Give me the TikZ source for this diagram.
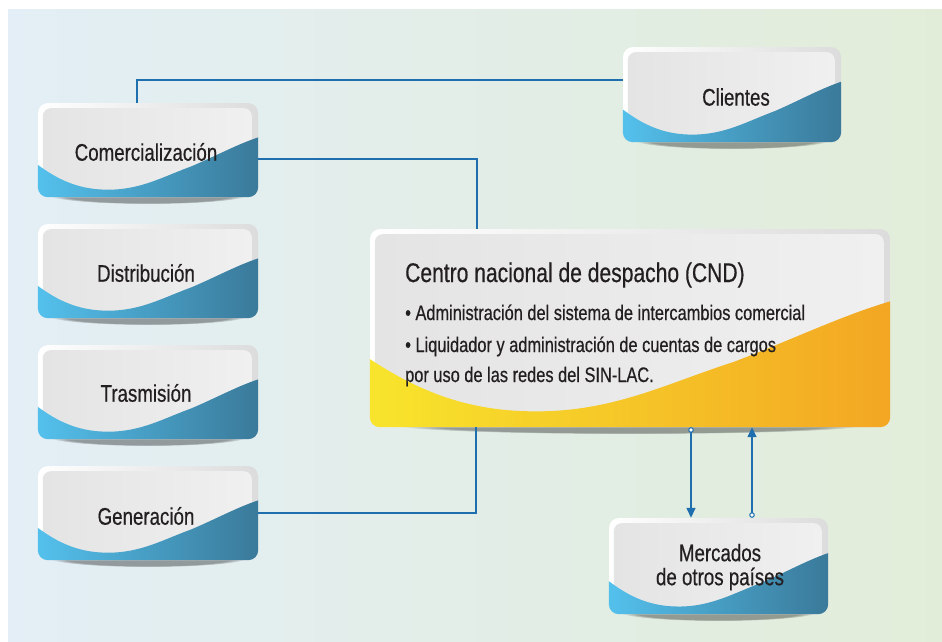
\documentclass[tikz,border=0pt]{standalone}
\usepackage{fontspec}
\setmainfont[FakeStretch=0.78,FakeBold=0.5]{Liberation Sans}
\usetikzlibrary{arrows.meta,fadings,calc}
\definecolor{bgL}{HTML}{E3EEF6}
\definecolor{bgR}{HTML}{E2EDD9}
\definecolor{conn}{HTML}{1F6EAE}
\definecolor{txt}{HTML}{231F20}
\definecolor{frameR}{HTML}{DCDCDC}
\definecolor{innerL}{HTML}{E4E4E4}
\definecolor{innerR}{HTML}{F0F0F0}
\definecolor{blueL}{HTML}{54C2EE}
\definecolor{blueD}{HTML}{3A7898}
\definecolor{yelL}{HTML}{F8E62C}
\definecolor{orgR}{HTML}{F3A523}
\tikzset{
  cardframe/.style={inner sep=0pt, rounded corners=10pt, left color=white, right color=frameR},
  cardtext/.style={font=\fontsize{24}{24}\selectfont, text=txt, align=center, inner sep=0pt},
  conn/.style={draw=conn, line width=1.4pt},
  arr/.style={draw=conn, line width=1.4pt,
    {Circle[fill=white,length=5.5pt,line width=1pt]}-{Triangle[width=9pt,length=10pt]}},
  cndtxt/.style={anchor=base west, font=\fontsize{21}{22}\selectfont, text=txt, inner sep=0pt},
}
% #1 name, #2 cx, #3 cy, #4 w, #5 h, #6 wave left colour, #7 wave right colour
\newcommand\card[7]{%
  \fill[black, opacity=0.35, path fading=circle with fuzzy edge 15 percent]
    (#2,{#3+#5/2-2}) ellipse ({#4*0.45} and 9);
  \node[cardframe, minimum width=#4pt, minimum height=#5pt] (#1) at (#2,#3) {};
  \begin{scope}
    \clip[rounded corners=10pt] (#1.south west) rectangle (#1.north east);
    \begin{scope}[shift={(#1.south west)}, x=1pt, y=1pt]
      \shade[rounded corners=8pt, left color=innerL, middle color=white, right color=innerR]
        (5,-10) rectangle ({#4-6},{#5-5});
    \end{scope}
    \begin{scope}[shift={(#1.south west)}, x=#4pt, y=#5pt]
      \shade[left color=#6, right color=#7]
        (-0.02,0.38) .. controls (0.1,0.16) and (0.2,0.08) .. (0.32,0.08)
        .. controls (0.47,0.08) and (0.57,0.22) .. (0.70,0.33)
        .. controls (0.82,0.45) and (0.92,0.58) .. (1.02,0.65)
        -- (1.02,-0.05) -- (-0.02,-0.05) -- cycle;
    \end{scope}
  \end{scope}
}
\begin{document}
\begin{tikzpicture}[x=1pt,y=-1pt]
\useasboundingbox (0,0) rectangle (942,641);
\shade[left color=bgL, right color=bgR] (8,9) rectangle (942,641);

\card{com}{148}{150}{220}{94}{blueL}{blueD}
\card{dis}{148}{271}{220}{94}{blueL}{blueD}
\card{tra}{148}{392}{220}{94}{blueL}{blueD}
\card{gen}{148}{513}{220}{94}{blueL}{blueD}
\card{cli}{732}{94.5}{218}{95}{blueL}{blueD}
\card{mer}{718.5}{566}{219}{96}{blueL}{blueD}
\card{cnd}{630}{328}{520}{198}{yelL}{orgR}

\node[cardtext] (comT) at (146,152) {Comercialización};
\node[cardtext] (disT) at (146,273) {Distribución};
\node[cardtext] (traT) at (146,393) {Trasmisión};
\node[cardtext] (genT) at (146,516) {Generación};
\node[cardtext] (cliT) at (736,97) {Clientes};
\node[cardtext] (merT) at (720,567) {Mercados\\de otros países};

\node[anchor=base west, font=\fontsize{27}{28}\selectfont, text=txt, inner sep=0pt] (cndT) at (405,282) {Centro nacional de despacho (CND)};
\node[cndtxt] (cnd1) at (405,320) {• Administración del sistema de intercambios comercial};
\node[cndtxt] (cnd2) at (405,352) {• Liquidador y administración de cuentas de cargos};
\node[cndtxt] (cnd3) at (405,382) {por uso de las redes del SIN-LAC.};

\draw[conn] ([xshift=-11pt]com.north) |- ([yshift=14.5pt]cli.west);
\draw[conn] ([yshift=-9pt]com.east) -| ([xshift=-153pt]cnd.north);
\draw[conn] ([xshift=-154pt]cnd.south) |- (gen.east);

\coordinate (d1) at ([xshift=61pt]cnd.south);
\coordinate (u1) at ([xshift=122pt]cnd.south);
\draw[arr] (d1) -- (d1 |- mer.north);
\draw[arr] (u1 |- mer.north) -- (u1);
\end{tikzpicture}
\end{document}
